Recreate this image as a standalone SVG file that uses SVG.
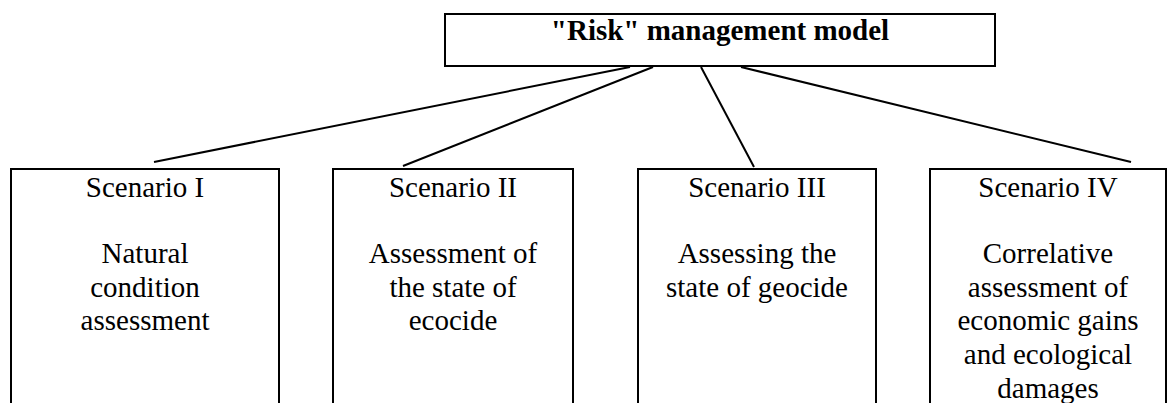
<svg xmlns="http://www.w3.org/2000/svg" width="1170" height="403" viewBox="0 0 1170 403">
<style>
.box{fill:#fff;stroke:#000;stroke-width:2}
.t{font-family:"Liberation Serif","Times New Roman",serif;font-size:29px;fill:#000;text-anchor:middle}
.b{font-weight:bold}
.c{stroke:#000;stroke-width:2;fill:none}
</style>
<rect width="1170" height="403" fill="#fff"/>
<g id="connectors">
<line class="c" x1="630" y1="67" x2="154" y2="162"/>
<line class="c" x1="653" y1="67" x2="403" y2="166"/>
<line class="c" x1="701" y1="67" x2="754" y2="167"/>
<line class="c" x1="741" y1="67" x2="1131" y2="162"/>
</g>
<g id="top">
<rect class="box" x="445" y="14" width="550" height="52"/>
<text class="t b" x="720" y="40">"Risk" management model</text>
</g>
<g id="s1">
<rect class="box" x="11" y="169" width="268" height="250"/>
<text class="t" x="145" y="197">Scenario I</text>
<text class="t" x="145" y="263">Natural</text>
<text class="t" x="145" y="297">condition</text>
<text class="t" x="145" y="330">assessment</text>
</g>
<g id="s2">
<rect class="box" x="333" y="169" width="240" height="250"/>
<text class="t" x="453" y="197">Scenario II</text>
<text class="t" x="453" y="263">Assessment of</text>
<text class="t" x="453" y="297">the state of</text>
<text class="t" x="453" y="330">ecocide</text>
</g>
<g id="s3">
<rect class="box" x="638" y="169" width="238" height="250"/>
<text class="t" x="757" y="197">Scenario III</text>
<text class="t" x="757" y="263">Assessing the</text>
<text class="t" x="757" y="297">state of geocide</text>
</g>
<g id="s4">
<rect class="box" x="930" y="169" width="236" height="250"/>
<text class="t" x="1048" y="197">Scenario IV</text>
<text class="t" x="1048" y="263">Correlative</text>
<text class="t" x="1048" y="297">assessment of</text>
<text class="t" x="1048" y="330">economic gains</text>
<text class="t" x="1048" y="364">and ecological</text>
<text class="t" x="1048" y="398">damages</text>
</g>
</svg>
